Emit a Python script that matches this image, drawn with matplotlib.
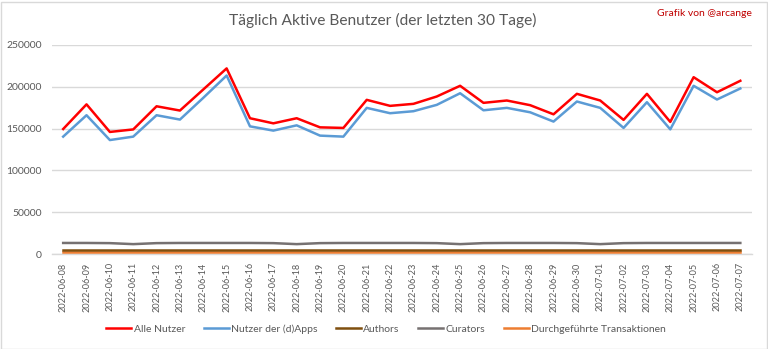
import matplotlib
matplotlib.use("Agg")
import matplotlib.pyplot as plt
from matplotlib.patches import Rectangle

plt.rcParams['font.family'] = ['Lato', 'DejaVu Sans']

dates = ["2022-06-08", "2022-06-09", "2022-06-10", "2022-06-11", "2022-06-12", "2022-06-13",
         "2022-06-14", "2022-06-15", "2022-06-16", "2022-06-17", "2022-06-18", "2022-06-19",
         "2022-06-20", "2022-06-21", "2022-06-22", "2022-06-23", "2022-06-24", "2022-06-25",
         "2022-06-26", "2022-06-27", "2022-06-28", "2022-06-29", "2022-06-30", "2022-07-01",
         "2022-07-02", "2022-07-03", "2022-07-04", "2022-07-05", "2022-07-06", "2022-07-07"]

alle_nutzer = [149500, 179000, 146000, 149000, 176700, 171600, 196800, 222000, 162400, 156300,
               162400, 151500, 150800, 184400, 177200, 179600, 188400, 201200, 180800, 183600,
               178000, 167100, 191600, 183600, 160400, 191600, 158000, 211500, 193500, 207200]

dapps = [140400, 166000, 136300, 140400, 166000, 160800, 186800, 213500, 152700, 147600,
         153900, 141600, 140400, 174800, 168400, 170800, 178400, 192300, 171900, 174800,
         169500, 158400, 182400, 174800, 150800, 181600, 149100, 201200, 184800, 198000]

authors = [4200] * 30

curators = [13200, 13200, 13000, 11800, 13000, 13200, 13200, 13200, 13200, 13000,
            11800, 13000, 13200, 13200, 13200, 13200, 13000, 11800, 13000, 13200,
            13200, 13200, 13000, 11800, 13000, 13200, 13200, 13200, 13200, 13200]

transaktionen = [2000] * 30

yticks = [0, 50000, 100000, 150000, 200000, 250000]

W, H = 768, 349
fig = plt.figure(figsize=(W / 100, H / 100), dpi=100)
fig.patch.set_facecolor('white')
fig.patches.append(Rectangle((0.5 / W, 0.5 / H), 1 - 2 / W, 1 - 2 / H, transform=fig.transFigure,
                             fill=False, edgecolor='#d9d9d9', linewidth=1.0))

ax = fig.add_axes([51.5 / W, (H - 254) / H, (752 - 51.5) / W, (254 - 45) / H])
x = list(range(len(dates)))

ax.plot(x, transaktionen, color='#ed7d31', lw=1.8, label='Durchgeführte Transaktionen', zorder=3)
ax.plot(x, authors, color='#7f4f0f', lw=1.8, label='Authors', zorder=4)
ax.plot(x, curators, color='#767171', lw=1.8, label='Curators', zorder=3)
ax.plot(x, dapps, color='#5b9bd5', lw=1.8, label='Nutzer der (d)Apps', zorder=3)
ax.plot(x, alle_nutzer, color='#ff0000', lw=1.8, label='Alle Nutzer', zorder=3)

ax.set_xlim(-0.5, len(dates) - 0.5)
ax.set_ylim(0, 250000)
ax.set_yticks(yticks)
ax.set_yticklabels([str(v) for v in yticks])
ax.set_xticks(x)
ax.set_xticklabels(dates, rotation=90)
ax.tick_params(axis='y', length=0, pad=7, labelsize=7.5, labelcolor='#595959')
ax.tick_params(axis='x', length=0, pad=6, labelsize=6.6, labelcolor='#595959')
ax.grid(axis='y', color='#d9d9d9', lw=1.0)
ax.set_axisbelow(True)
for s in ['top', 'right', 'left']:
    ax.spines[s].set_visible(False)
ax.spines['bottom'].set_color('#d9d9d9')
ax.spines['bottom'].set_linewidth(1.0)

fig.text(383 / W, 1 - 20 / H, 'Täglich Aktive Benutzer (der letzten 30 Tage)', ha='center', va='center',
         fontsize=11.2, color='#595959')
fig.text(704 / W, 1 - 13 / H, 'Grafik von @arcange', ha='center', va='center',
         fontsize=7.5, color='#c00000')

handles, labels = ax.get_legend_handles_labels()
order = ['Alle Nutzer', 'Nutzer der (d)Apps', 'Authors', 'Curators', 'Durchgeführte Transaktionen']
hl = {l: h for h, l in zip(handles, labels)}
leg = fig.legend([hl[o] for o in order], order, loc='center', bbox_to_anchor=(386 / W, 1 - 329 / H),
                 ncol=5, frameon=False, fontsize=7.5, handlelength=2.4, handletextpad=0.2,
                 columnspacing=1.8)
for t in leg.get_texts():
    t.set_color('#595959')

fig.savefig('out.png', dpi=100, facecolor='white')
